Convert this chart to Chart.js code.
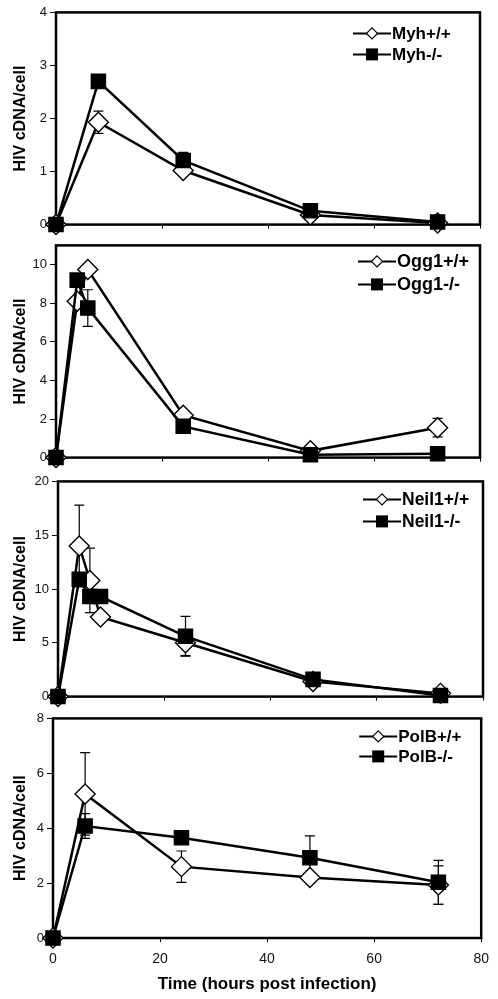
<!DOCTYPE html>
<html>
<head>
<meta charset="utf-8">
<script src="https://cdn.jsdelivr.net/npm/chart.js@4.4.1/dist/chart.umd.min.js"></script>
<style>
  html, body { margin: 0; padding: 0; background: #fff; }
  #wrap { position: relative; width: 498px; height: 999px; overflow: hidden; }
  #wrap canvas { position: absolute; left: 0; }
</style>
</head>
<body>
<div id="wrap">
  <canvas id="c1"></canvas>
  <canvas id="c2"></canvas>
  <canvas id="c3"></canvas>
  <canvas id="c4"></canvas>
</div>
<script>
// time points (hours post infection) and HIV cDNA/cell per panel
const myhHours = [0, 8, 24, 48, 72];
const myhWT = [0, 1.93, 1.02, 0.18, 0.03];
const myhWTErr = [0, 0.21, 0.05, 0.03, 0.05];
const myhKO = [0, 2.7, 1.21, 0.26, 0.05];
const myhKOErr = [0, 0.05, 0.15, 0.03, 0.03];

const oggHours = [0, 4, 6, 24, 48, 72];
const oggWT = [0, 8.1, 9.75, 2.2, 0.35, 1.55];
const oggWTErr = [0, 0, 0, 0, 0, 0.48];
const oggKO = [0, 9.2, 7.75, 1.62, 0.15, 0.2];
const oggKOErr = [0, 0, 0.95, 0, 0, 0];

const neilHours = [0, 4, 6, 8, 24, 48, 72];
const neilWT = [0, 14.0, 10.8, 7.4, 5.0, 1.4, 0.3];
const neilWTErr = [0, 3.8, 3.0, 0, 1.2, 0, 0];
const neilKO = [0, 10.9, 9.3, 9.3, 5.6, 1.6, 0.1];
const neilKOErr = [0, 0, 0.6, 0.6, 1.85, 0, 0];

const polbHours = [0, 6, 24, 48, 72];
const polbWT = [0, 5.25, 2.6, 2.2, 1.93];
const polbWTErr = [0, 1.5, 0.57, 0, 0.7];
const polbKO = [0, 4.08, 3.65, 2.92, 2.03];
const polbKOErr = [0, 0.45, 0, 0.8, 0.8];

const myhLabels = ["Myh+/+", "Myh-/-"];
const oggLabels = ["Ogg1+/+", "Ogg1-/-"];
const neilLabels = ["Neil1+/+", "Neil1-/-"];
const polbLabels = ["PolB+/+", "PolB-/-"];

const xTicks = [0, 20, 40, 60, 80];
const myhTicks = [0, 1, 2, 3, 4];
const oggTicks = [0, 2, 4, 6, 8, 10];
const neilTicks = [0, 5, 10, 15, 20];
const polbTicks = [0, 2, 4, 6, 8];

const FONT = "'Liberation Sans', Arial, sans-serif";

const framePlugin = {
  id: "frame",
  beforeDatasetsDraw(chart) {
    const { ctx, chartArea: a } = chart;
    ctx.save();
    ctx.strokeStyle = "#000";
    ctx.lineWidth = 2.5;
    ctx.strokeRect(a.left, a.top, a.right - a.left, a.bottom - a.top);
    ctx.restore();
  },
};

const errorPlugin = {
  id: "errbars",
  beforeDatasetsDraw(chart) {
    const { ctx } = chart;
    const xs = chart.scales.x;
    const ys = chart.scales.y;
    ctx.save();
    ctx.strokeStyle = "#000";
    ctx.lineWidth = 1.2;
    chart.data.datasets.forEach((ds) => {
      ds.data.forEach((pt, i) => {
        const e = ds.errors[i];
        if (!e) return;
        const px = xs.getPixelForValue(pt.x);
        const top = ys.getPixelForValue(pt.y + e);
        const bot = ys.getPixelForValue(pt.y - e);
        ctx.beginPath();
        ctx.moveTo(px, top);
        ctx.lineTo(px, bot);
        ctx.moveTo(px - 5, top);
        ctx.lineTo(px + 5, top);
        ctx.moveTo(px - 5, bot);
        ctx.lineTo(px + 5, bot);
        ctx.stroke();
      });
    });
    ctx.restore();
  },
};

// legend drawn inside the plot, top right
const keyPlugin = {
  id: "key",
  afterDatasetsDraw(chart, args, opts) {
    const { ctx, chartArea: a } = chart;
    const x0 = a.right + opts.dx;
    ctx.save();
    chart.data.datasets.forEach((ds, i) => {
      const y = a.top + opts.rows[i];
      ctx.strokeStyle = "#000";
      ctx.lineWidth = 2;
      ctx.beginPath();
      ctx.moveTo(x0, y);
      ctx.lineTo(x0 + 38, y);
      ctx.stroke();
      const cx = x0 + 19;
      if (ds.pointStyle === "rectRot") {
        ctx.fillStyle = "#fff";
        ctx.lineWidth = 1.2;
        ctx.beginPath();
        ctx.moveTo(cx - 5.5, y);
        ctx.lineTo(cx, y - 5.5);
        ctx.lineTo(cx + 5.5, y);
        ctx.lineTo(cx, y + 5.5);
        ctx.closePath();
        ctx.fill();
        ctx.stroke();
      } else {
        ctx.fillStyle = "#000";
        ctx.fillRect(cx - 6, y - 6, 12, 12);
      }
      ctx.fillStyle = "#000";
      ctx.font = "bold " + opts.size + "px " + FONT;
      ctx.textAlign = "left";
      ctx.textBaseline = "middle";
      ctx.fillText(ds.label, x0 + 39, y + 1);
    });
    ctx.restore();
  },
};

function series(label, hours, vals, errs, filled) {
  return {
    label: label,
    data: hours.map((h, i) => ({ x: h, y: vals[i] })),
    errors: errs,
    borderColor: "#000",
    borderWidth: 2.5,
    pointStyle: filled ? "rect" : "rectRot",
    pointRadius: 10,
    pointBackgroundColor: filled ? "#000" : "#fff",
    pointBorderColor: "#000",
    pointBorderWidth: 1.4,
    clip: false,
    order: filled ? 1 : 2,
  };
}

function makePanel(p) {
  const cv = document.getElementById(p.id);
  const top = p.frame[2] - 10;
  const h = p.last ? 999 - top : p.frame[3] - p.frame[2] + 18;
  cv.width = 498;
  cv.height = h;
  cv.style.top = top + "px";
  return new Chart(cv, {
    type: "line",
    data: {
      datasets: [
        series(p.labels[0], p.hours, p.wt, p.wtErr, false),
        series(p.labels[1], p.hours, p.ko, p.koErr, true),
      ],
    },
    options: {
      responsive: false,
      animation: false,
      events: [],
      layout: { padding: { top: 10, left: 0, right: 498 - p.frame[1], bottom: 0 } },
      scales: {
        x: {
          type: "linear",
          min: 0,
          max: 80,
          afterBuildTicks: (s) => { s.ticks = xTicks.map((v) => ({ value: v })); },
          afterFit: (s) => { s.height = p.last ? 999 - p.frame[3] : 8; },
          border: { display: false },
          grid: { drawOnChartArea: false, color: "#000", tickLength: 4, lineWidth: 1 },
          ticks: {
            display: !!p.last,
            color: "#111",
            padding: 9,
            maxRotation: 0,
            font: { family: FONT, size: 14 },
          },
          title: {
            display: !!p.last,
            text: "Time (hours post infection)",
            color: "#000",
            font: { family: FONT, size: 17, weight: "bold" },
            padding: { top: 0, bottom: 4 },
          },
        },
        y: {
          min: 0,
          max: p.yMax,
          afterBuildTicks: (s) => { s.ticks = p.yTicks.map((v) => ({ value: v })); },
          afterFit: (s) => { s.width = p.frame[0]; },
          border: { display: false },
          grid: { drawOnChartArea: false, color: "#000", tickLength: 6, lineWidth: 1 },
          ticks: { color: "#111", padding: 3, font: { family: FONT, size: 13 } },
          title: {
            display: true,
            text: "HIV cDNA/cell",
            color: "#000",
            font: { family: FONT, size: 16, weight: "bold" },
            padding: { top: 11, bottom: 0 },
          },
        },
      },
      plugins: {
        legend: { display: false },
        tooltip: { enabled: false },
        key: p.key,
      },
    },
    plugins: [framePlugin, errorPlugin, keyPlugin],
  });
}

makePanel({
  id: "c1", hours: myhHours, wt: myhWT, wtErr: myhWTErr, ko: myhKO, koErr: myhKOErr,
  labels: myhLabels, yTicks: myhTicks, yMax: 4, frame: [56, 480, 11, 228],
  key: { dx: -127, rows: [21, 42], size: 17 },
});
makePanel({
  id: "c2", hours: oggHours, wt: oggWT, wtErr: oggWTErr, ko: oggKO, koErr: oggKOErr,
  labels: oggLabels, yTicks: oggTicks, yMax: 11, frame: [56, 480, 244, 461],
  key: { dx: -122, rows: [16, 39], size: 18 },
});
makePanel({
  id: "c3", hours: neilHours, wt: neilWT, wtErr: neilWTErr, ko: neilKO, koErr: neilKOErr,
  labels: neilLabels, yTicks: neilTicks, yMax: 20, frame: [58, 483, 480, 700],
  key: { dx: -120, rows: [18, 40], size: 17.5 },
});
makePanel({
  id: "c4", hours: polbHours, wt: polbWT, wtErr: polbWTErr, ko: polbKO, koErr: polbKOErr,
  labels: polbLabels, yTicks: polbTicks, yMax: 8, frame: [53, 486, 717, 938], last: true,
  key: { dx: -122, rows: [18, 38], size: 17 },
});
</script>
</body>
</html>
